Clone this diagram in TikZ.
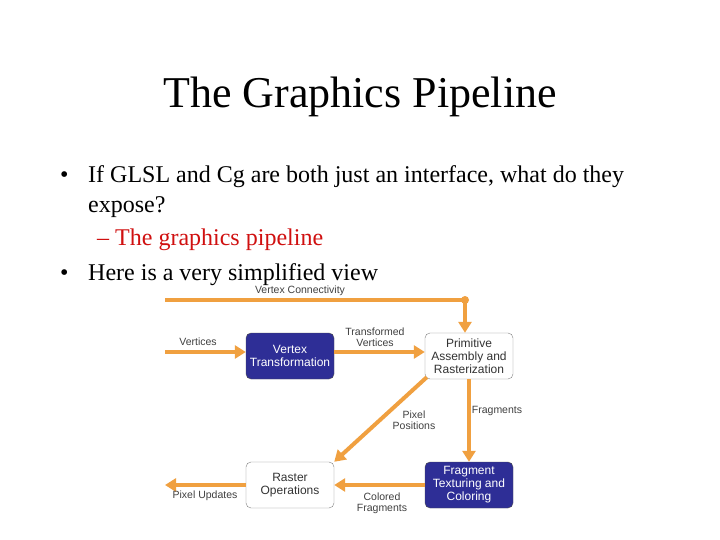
\documentclass[tikz,border=0pt]{standalone}
\usepackage{fontspec}
\setmainfont{Liberation Serif}
\newfontfamily\dsans{Liberation Sans}
\usetikzlibrary{arrows.meta}
\definecolor{boxblue}{HTML}{2E2E96}
\definecolor{arr}{HTML}{F0A040}
\definecolor{redtxt}{HTML}{D01010}
\begin{document}
\begin{tikzpicture}[x=1pt,y=-1pt,
  bluebox/.style={draw=gray!60!black,fill=boxblue,text=white,rounded corners=5pt,minimum width=88pt,minimum height=46pt,align=center,font=\dsans\fontsize{12}{13}\selectfont,inner sep=1pt},
  whitebox/.style={draw=gray,fill=white,text=black!80,rounded corners=5pt,minimum width=88pt,minimum height=46pt,align=center,font=\dsans\fontsize{12}{13}\selectfont,inner sep=1pt},
  flow/.style={draw=arr,line width=4pt,-{Triangle[length=11pt,width=13pt,fill=arr]}},
  lab/.style={font=\dsans\fontsize{10.5}{11}\selectfont,text=black!75,align=center,inner sep=0pt},
  bul/.style={anchor=base west,font=\fontsize{24}{27}\selectfont,inner sep=0pt}]
\useasboundingbox (0,0) rectangle (720,540);
\fill[white] (0,0) rectangle (720,540);
\node[font=\fontsize{44}{48}\selectfont] (title) at (360,97) {The Graphics Pipeline};
\node[bul] (b1) at (60,183) {•};
\node[bul] (t1) at (88,183) {If GLSL and Cg are both just an interface, what do they};
\node[bul] (t1b) at (88,213) {expose?};
\node[bul,text=redtxt] (t2) at (97,245) {– The graphics pipeline};
\node[bul] (b3) at (60,280) {•};
\node[bul] (t3) at (88,280) {Here is a very simplified view};

\node[bluebox] (vt) at (290,356) {Vertex\\Transformation};
\node[whitebox] (pa) at (469,356) {Primitive\\Assembly and\\Rasterization};
\node[whitebox] (ro) at (290,485) {Raster\\Operations};
\node[bluebox] (ft) at (469,485) {Fragment\\Texturing and\\Coloring};

\coordinate (vcs) at (165,300);
\coordinate (vcj) at (465,300);
\coordinate (vin) at (165,352);
\coordinate (pout) at (165,485);
\draw[draw=arr,line width=4pt] (vcs) -- (vcj);
\fill[arr] (vcj) circle (4pt);
\draw[flow] (vcj) -- (vcj |- pa.north);
\draw[flow] (vin) -- (vin -| vt.west);
\draw[flow] (vt.east |- 0,352) -- (pa.west |- 0,352);
\draw[flow] (pa.south) -- (ft.north);
\draw[flow] (pa.south west) ++(2,-2) -- (ro.north east);
\draw[flow] (ft.west) -- (ro.east);
\draw[flow] (ro.west) -- (pout);

\node[lab] (l1) at (300,291) {Vertex Connectivity};
\node[lab] (l2) at (198,342) {Vertices};
\node[lab] (l3) at (375,337) {Transformed\\Vertices};
\node[lab] (l4) at (497,411) {Fragments};
\node[lab] (l5) at (414,420) {Pixel\\Positions};
\node[lab] (l6) at (382,503) {Colored\\Fragments};
\node[lab] (l7) at (205,496) {Pixel Updates};
\end{tikzpicture}
\end{document}
